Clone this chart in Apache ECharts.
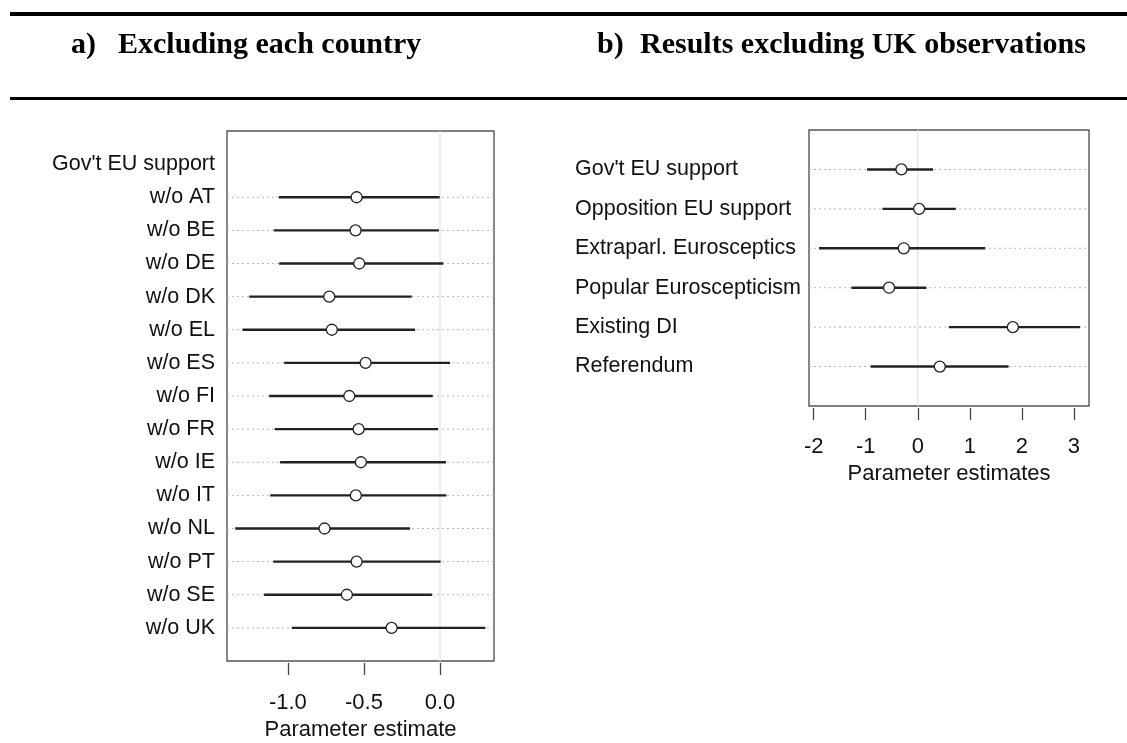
<!DOCTYPE html>
<html>
<head>
<meta charset="utf-8">
<script src="https://cdn.jsdelivr.net/npm/echarts@6/dist/echarts.min.js"></script>
<style>
html,body{margin:0;padding:0;background:#fff;}
#chart{width:1127px;height:743px;}
</style>
</head>
<body>
<div id="chart"></div>
<script>
// ---- Panel a) data ----
const leftHeader = "Gov't EU support";
const leftRows = ['w/o AT','w/o BE','w/o DE','w/o DK','w/o EL','w/o ES','w/o FI','w/o FR','w/o IE','w/o IT','w/o NL','w/o PT','w/o SE','w/o UK'];
const leftEst  = [-0.548,-0.555,-0.531,-0.728,-0.711,-0.489,-0.596,-0.535,-0.520,-0.553,-0.759,-0.548,-0.612,-0.318];
const leftLow  = [-1.059,-1.092,-1.057,-1.254,-1.298,-1.024,-1.123,-1.086,-1.051,-1.116,-1.346,-1.096,-1.156,-0.974];
const leftHigh = [-0.002,-0.007, 0.022,-0.186,-0.164, 0.066,-0.048,-0.013, 0.039, 0.042,-0.197, 0.004,-0.053, 0.298];
const leftTicks = [-1.0,-0.5,0.0];

// ---- Panel b) data ----
const rightRows = ["Gov't EU support",'Opposition EU support','Extraparl. Eurosceptics','Popular Euroscepticism','Existing DI','Referendum'];
const rightEst  = [-0.314, 0.026,-0.269,-0.551, 1.827, 0.423];
const rightLow  = [-0.974,-0.679,-1.897,-1.276, 0.596,-0.904];
const rightHigh = [ 0.295, 0.731, 1.295, 0.167, 3.115, 1.744];
const rightTicks = [-2,-1,0,1,2,3];

const titleA = ['a)', 'Excluding each country'];
const titleB = ['b)', 'Results excluding UK observations'];
const xTitleA = 'Parameter estimate';
const xTitleB = 'Parameter estimates';

// category lists padded with empty slots at both ends
const leftCats = [''].concat([leftHeader], leftRows, ['']);
const rightCats = [''].concat(rightRows, ['']);

const leftData = leftRows.map((r,i)=>[leftEst[i], leftLow[i], leftHigh[i], i+2]);
const rightData = rightRows.map((r,i)=>[rightEst[i], rightLow[i], rightHigh[i], i+1]);

const SANS = "'Liberation Sans', Arial, Helvetica, sans-serif";
const SERIF = "'Liberation Serif', 'Times New Roman', serif";

function renderCI(params, api){
  const row = api.value(3);
  const pL = api.coord([api.value(1), row]);
  const pH = api.coord([api.value(2), row]);
  const pE = api.coord([api.value(0), row]);
  const cs = params.coordSys;
  return {type:'group', children:[
    {type:'line', shape:{x1:cs.x, y1:pE[1], x2:cs.x+cs.width, y2:pE[1]},
     style:{stroke:'#b8b8b8', lineWidth:1, lineDash:[2,3]}},
    {type:'line', shape:{x1:pL[0], y1:pL[1], x2:pH[0], y2:pH[1]},
     style:{stroke:'#222', lineWidth:2.4}},
    {type:'circle', shape:{cx:pE[0], cy:pE[1], r:5.5},
     style:{fill:'#fff', stroke:'#222', lineWidth:1.3}}
  ]};
}

function xAxisCfg(gi, min, max, ticks, name, fmt, margin, gap){
  return {
    type:'value', gridIndex:gi, min:min, max:max, offset:2,
    axisLine:{show:false},
    splitLine:{show:false},
    axisTick:{show:true, length:12, customValues:ticks, lineStyle:{color:'#444', width:1.3}},
    axisLabel:{show:true, customValues:ticks, formatter:fmt, margin:margin,
      fontFamily:SANS, fontSize:22, color:'#111'},
    name:name, nameLocation:'middle', nameGap:gap,
    nameTextStyle:{fontFamily:SANS, fontSize:22, color:'#111'}
  };
}

const titleFont = 'bold 30px ' + SERIF;
const chart = echarts.init(document.getElementById('chart'), null, {renderer:'canvas'});
chart.setOption({
  backgroundColor:'#fff',
  animation:false,
  grid:[
    {left:227, top:131, width:267, height:530, outerBoundsMode:'none', containLabel:false,
     show:true, borderColor:'#555', borderWidth:1.4, backgroundColor:'transparent'},
    {left:809, top:130, width:280, height:276, outerBoundsMode:'none', containLabel:false,
     show:true, borderColor:'#555', borderWidth:1.4, backgroundColor:'transparent'}
  ],
  xAxis:[
    xAxisCfg(0, -1.40, 0.355, leftTicks, xTitleA, v=>v.toFixed(1), 29, 56),
    xAxisCfg(1, -2.09, 3.29, rightTicks, xTitleB, v=>String(v), 28, 55)
  ],
  yAxis:[
    {type:'category', gridIndex:0, data:leftCats, boundaryGap:false, inverse:true,
     axisLine:{show:false}, axisTick:{show:false}, splitLine:{show:false},
     axisLabel:{interval:0, margin:12, fontFamily:SANS, fontSize:21.5, color:'#111'}},
    {type:'category', gridIndex:1, data:rightCats, boundaryGap:false, inverse:true,
     axisLine:{show:false}, axisTick:{show:false}, splitLine:{show:false},
     axisLabel:{interval:0, margin:234, align:'left', fontFamily:SANS, fontSize:21.5, color:'#111'}}
  ],
  series:[
    {type:'line', xAxisIndex:0, yAxisIndex:0, data:[[0,0],[0,leftCats.length-1]], showSymbol:false, silent:true, z:1,
     lineStyle:{color:'#e2e2e2', width:1.2}},
    {type:'line', xAxisIndex:1, yAxisIndex:1, data:[[0,0],[0,rightCats.length-1]], showSymbol:false, silent:true, z:1,
     lineStyle:{color:'#e2e2e2', width:1.2}},
    {type:'custom', xAxisIndex:0, yAxisIndex:0, data:leftData, renderItem:renderCI, z:3, silent:true,
     encode:{x:[0,1,2], y:3}},
    {type:'custom', xAxisIndex:1, yAxisIndex:1, data:rightData, renderItem:renderCI, z:3, silent:true,
     encode:{x:[0,1,2], y:3}}
  ],
  graphic:[
    {type:'rect', left:10, top:12, shape:{width:1117, height:4}, style:{fill:'#000'}},
    {type:'rect', left:10, top:97, shape:{width:1117, height:3}, style:{fill:'#000'}},
    {type:'text', x:71, y:45, style:{text:titleA[0], font:titleFont, fill:'#000', verticalAlign:'middle'}},
    {type:'text', x:118, y:45, style:{text:titleA[1], font:titleFont, fill:'#000', verticalAlign:'middle'}},
    {type:'text', x:597, y:45, style:{text:titleB[0], font:titleFont, fill:'#000', verticalAlign:'middle'}},
    {type:'text', x:640, y:45, style:{text:titleB[1], font:titleFont, fill:'#000', verticalAlign:'middle'}}
  ]
});
</script>
</body>
</html>
